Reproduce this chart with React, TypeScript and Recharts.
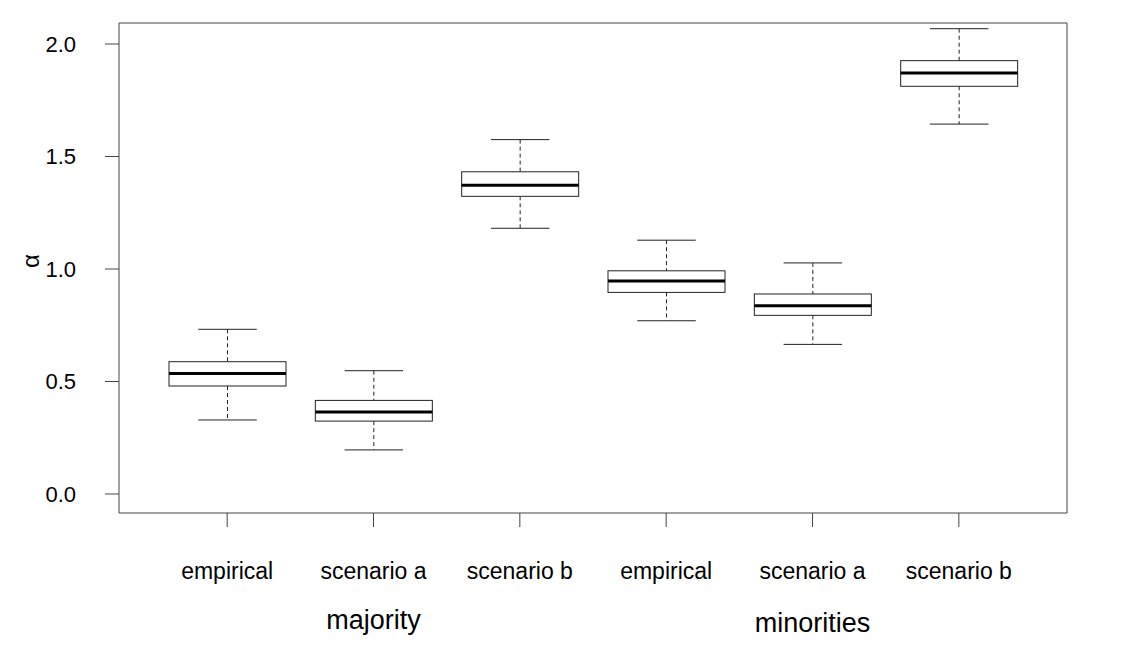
import { ComposedChart, Bar, Line, XAxis, YAxis } from 'recharts';

// box statistics, one entry per box
const categories = ['empirical', 'scenario a', 'scenario b', 'empirical', 'scenario a', 'scenario b'];
const groupLabels = ['', 'majority', '', '', 'minorities', ''];
const whiskerLow = [0.329, 0.196, 1.181, 0.770, 0.665, 1.644];
const q1 = [0.480, 0.324, 1.323, 0.896, 0.794, 1.812];
const median = [0.536, 0.364, 1.372, 0.947, 0.837, 1.871];
const q3 = [0.588, 0.416, 1.432, 0.992, 0.889, 1.926];
const whiskerHigh = [0.732, 0.548, 1.575, 1.128, 1.027, 2.068];
const yTicks = [0, 0.5, 1, 1.5, 2];

const data = categories.map((name, i) => ({
  id: `${i}-${name}`,
  name,
  low: whiskerLow[i],
  q1: q1[i],
  median: median[i],
  q3: q3[i],
  high: whiskerHigh[i],
}));

const FONT = '"Liberation Sans", Arial, sans-serif';
const INK = '#222';
const FRAME = '#444';

function BoxShape(props: any) {
  const { x, y, width, height, payload } = props;
  const span = payload.high - payload.low;
  const top = Math.min(y, y + height);
  const h = Math.abs(height);
  const py = (v: number) => top + ((payload.high - v) / span) * h;
  const cx = x + width / 2;
  const cap = width / 4;
  return (
    <g>
      <line x1={cx} x2={cx} y1={py(payload.high)} y2={py(payload.q3)} stroke={INK} strokeDasharray="4 3" />
      <line x1={cx} x2={cx} y1={py(payload.q1)} y2={py(payload.low)} stroke={INK} strokeDasharray="4 3" />
      <line x1={cx - cap} x2={cx + cap} y1={py(payload.high)} y2={py(payload.high)} stroke={INK} />
      <line x1={cx - cap} x2={cx + cap} y1={py(payload.low)} y2={py(payload.low)} stroke={INK} />
      <rect x={x} y={py(payload.q3)} width={width} height={py(payload.q1) - py(payload.q3)} fill="#fff" stroke={INK} />
      <line x1={x} x2={x + width} y1={py(payload.median)} y2={py(payload.median)} stroke="#000" strokeWidth={3} />
    </g>
  );
}

function CategoryTick({ x, y, payload, index }: any) {
  const i = payload?.index ?? index;
  return (
    <g>
      <text x={x} y={y + 50} textAnchor="middle" fontSize={23} fontFamily={FONT} fill="#000">
        {categories[i]}
      </text>
      {groupLabels[i] && (
        <text x={x} y={y + 100 + (i === 4 ? 3 : 0)} textAnchor="middle" fontSize={27} fontFamily={FONT} fill="#000">
          {groupLabels[i]}
        </text>
      )}
    </g>
  );
}

export default function App() {
  return (
    <div style={{ position: 'absolute', left: 0, top: 0, background: '#fff' }}>
      <ComposedChart
        width={1125}
        height={656}
        data={data}
        margin={{ top: 22, right: 57, bottom: 0, left: 0 }}
        style={{ fontFamily: FONT }}
      >
        <XAxis
          dataKey="id"
          type="category"
          interval={0}
          padding={{ left: 35, right: 35 }}
          height={143}
          tickSize={14}
          axisLine={{ stroke: FRAME }}
          tickLine={{ stroke: FRAME }}
          tick={<CategoryTick />}
        />
        <XAxis
          xAxisId="top"
          dataKey="id"
          type="category"
          orientation="top"
          height={1}
          tick={false}
          tickLine={false}
          axisLine={{ stroke: FRAME }}
        />
        <YAxis
          type="number"
          domain={[-0.0844, 2.0933]}
          allowDataOverflow
          ticks={yTicks}
          tickFormatter={(v: number) => v.toFixed(1)}
          width={119}
          tickSize={14}
          tickMargin={29}
          axisLine={{ stroke: FRAME }}
          tickLine={{ stroke: FRAME }}
          tick={{ fontSize: 22, fill: '#000', fontFamily: FONT }}
          label={{ value: 'α', angle: -90, position: 'insideLeft', offset: 30, fontSize: 24, fill: '#000' }}
        />
        <YAxis
          yAxisId="right"
          type="number"
          orientation="right"
          domain={[-0.0844, 2.0933]}
          width={1}
          tick={false}
          tickLine={false}
          axisLine={{ stroke: FRAME }}
        />
        <Bar
          dataKey={(d: any) => [d.low, d.high]}
          barSize={117}
          shape={<BoxShape />}
          isAnimationActive={false}
        />
        {/* invisible series so the frame axes are drawn */}
        <Line
          xAxisId="top"
          yAxisId="right"
          dataKey="median"
          stroke="none"
          dot={false}
          activeDot={false}
          legendType="none"
          isAnimationActive={false}
        />
      </ComposedChart>
    </div>
  );
}
